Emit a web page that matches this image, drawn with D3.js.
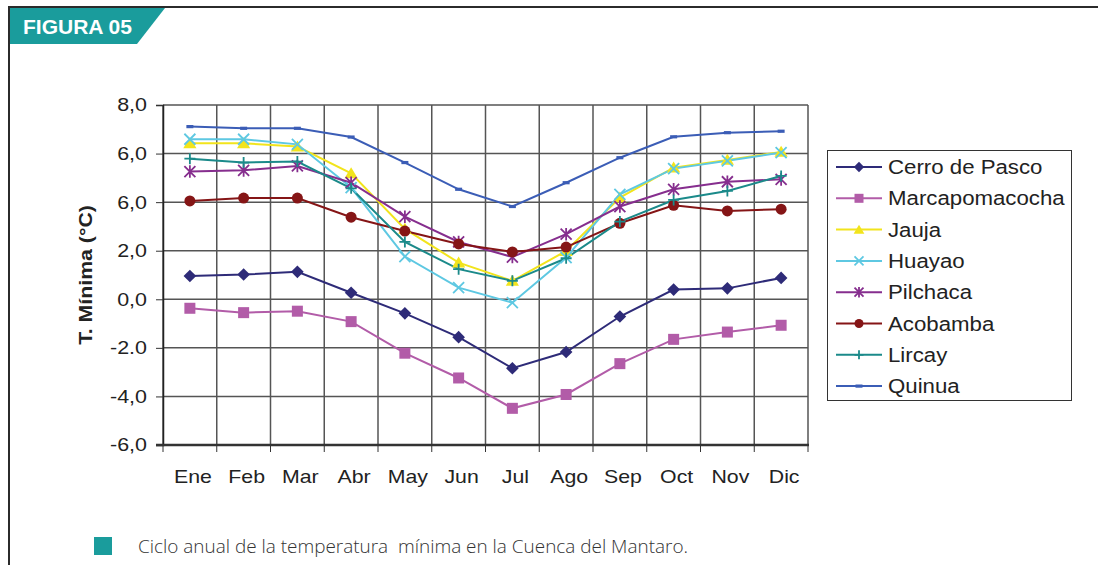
<!DOCTYPE html>
<html>
<head>
<meta charset="utf-8">
<script src="https://cdn.jsdelivr.net/npm/d3@7"></script>
<style>
  body { margin: 0; background: #fff; }
  svg { display: block; }
</style>
</head>
<body>
<svg id="chart" width="1098" height="565"></svg>
<script>
// Months on the x axis
var months = ["Ene", "Feb", "Mar", "Abr", "May", "Jun", "Jul", "Ago", "Sep", "Oct", "Nov", "Dic"];

// y ticks and the labels printed next to them (the original repeats "6,0")
var yTicks = [-6, -4, -2, 0, 2, 4, 6, 8];
var yTickLabels = ["-6,0", "-4,0", "-2.0", "0,0", "2,0", "6,0", "6,0", "8,0"];

var stationNames = ["Cerro de Pasco", "Marcapomacocha", "Jauja", "Huayao", "Pilchaca", "Acobamba", "Lircay", "Quinua"];

// Minimum temperature per month
var cerroDePasco = [0.96, 1.02, 1.13, 0.27, -0.58, -1.56, -2.84, -2.17, -0.71, 0.40, 0.45, 0.88];
var marcapomacocha = [-0.37, -0.55, -0.49, -0.92, -2.22, -3.24, -4.49, -3.92, -2.65, -1.65, -1.35, -1.07];
var jauja = [6.42, 6.42, 6.29, 5.19, 2.90, 1.51, 0.76, 1.99, 4.19, 5.42, 5.74, 6.07];
var huayao = [6.59, 6.59, 6.38, 4.60, 1.76, 0.48, -0.14, 1.72, 4.32, 5.38, 5.70, 6.04];
var pilchaca = [5.26, 5.31, 5.49, 4.80, 3.40, 2.36, 1.74, 2.68, 3.82, 4.53, 4.84, 4.94];
var acobamba = [4.05, 4.17, 4.17, 3.38, 2.81, 2.28, 1.95, 2.15, 3.13, 3.87, 3.64, 3.71];
var lircay = [5.79, 5.63, 5.67, 4.57, 2.36, 1.24, 0.76, 1.69, 3.20, 4.09, 4.46, 5.08];
var quinua = [7.11, 7.04, 7.04, 6.68, 5.63, 4.53, 3.82, 4.80, 5.83, 6.69, 6.86, 6.92];

var seriesValues = [cerroDePasco, marcapomacocha, jauja, huayao, pilchaca, acobamba, lircay, quinua];

// Styling per station, same order as stationNames
var seriesColors = ["#2e2b78", "#b25ca8", "#f2e41c", "#5ec8e2", "#862e8e", "#851516", "#1b8a8a", "#3b5db6"];
var seriesMarkers = ["diamond", "square", "triangle", "x", "star", "circle", "plus", "dash"];

var W = 1098, H = 565;
var plot = { left: 163, right: 808, top: 105, bottom: 445 };
var FONT = "Liberation Sans, Arial, sans-serif";

var svg = d3.select("#chart");

var x = d3.scaleBand().domain(months).range([plot.left, plot.right]).padding(0);
var y = d3.scaleLinear().domain([-6, 8]).range([plot.bottom, plot.top]);

/**
 * The printed figure is a bit wider than tall, so its text is stretched.
 * Widens each text of a selection by the given factor.
 */
function stretch(sel, factor) {
    sel.each(function() {
        var len = this.getComputedTextLength();
        d3.select(this).attr("textLength", len * factor).attr("lengthAdjust", "spacingAndGlyphs");
    });
}

/**
 * Draws one marker shape centred at 0,0 inside group g
 */
function drawMarker(g, type, color, s) {
    var h = s / 2;
    if (type == "diamond") {
        g.append("path").attr("d", "M0," + (-h * 1.15) + "L" + (h * 1.15) + ",0L0," + (h * 1.15) + "L" + (-h * 1.15) + ",0Z")
            .attr("fill", color);
    } else if (type == "square") {
        g.append("rect").attr("x", -h).attr("y", -h).attr("width", s).attr("height", s)
            .attr("fill", color);
    } else if (type == "triangle") {
        g.append("path").attr("d", "M0," + (-h * 1.1) + "L" + (h * 1.2) + "," + (h * 0.9) + "L" + (-h * 1.2) + "," + (h * 0.9) + "Z")
            .attr("fill", color);
    } else if (type == "circle") {
        g.append("circle").attr("r", h).attr("fill", color);
    } else if (type == "x") {
        g.append("path").attr("d", "M" + (-h) + "," + (-h) + "L" + h + "," + h + "M" + (-h) + "," + h + "L" + h + "," + (-h))
            .attr("stroke", color).attr("stroke-width", 1.8).attr("fill", "none");
    } else if (type == "star") {
        g.append("path").attr("d", "M" + (-h) + "," + (-h) + "L" + h + "," + h + "M" + (-h) + "," + h + "L" + h + "," + (-h) +
                "M0," + (-h * 1.15) + "L0," + (h * 1.15))
            .attr("stroke", color).attr("stroke-width", 1.8).attr("fill", "none");
    } else if (type == "plus") {
        g.append("path").attr("d", "M" + (-h) + ",0L" + h + ",0M0," + (-h) + "L0," + h)
            .attr("stroke", color).attr("stroke-width", 1.8).attr("fill", "none");
    } else if (type == "dash") {
        g.append("rect").attr("x", -3.5).attr("y", -1.6).attr("width", 7).attr("height", 3.2)
            .attr("fill", color);
    }
}

// Outer frame of the figure
svg.append("line").attr("x1", 8).attr("x2", W).attr("y1", 7).attr("y2", 7)
    .attr("stroke", "#2b2b2b").attr("stroke-width", 2);
svg.append("line").attr("x1", 9).attr("x2", 9).attr("y1", 6).attr("y2", H)
    .attr("stroke", "#2b2b2b").attr("stroke-width", 2);

// Teal header tab
svg.append("path").attr("d", "M10,8L165,8L137,44L10,44Z").attr("fill", "#1a9c9c");
svg.append("text").attr("x", 23).attr("y", 34)
    .attr("font-family", FONT).attr("font-weight", "bold")
    .attr("font-size", 20).attr("fill", "#fff").text("FIGURA 05")
    .attr("textLength", 109).attr("lengthAdjust", "spacingAndGlyphs");

// Grid lines
var grid = svg.append("g");
grid.selectAll("line.h").data(yTicks).enter().append("line")
    .attr("x1", plot.left).attr("x2", plot.right)
    .attr("y1", function(d) { return y(d); }).attr("y2", function(d) { return y(d); })
    .attr("stroke", "#555").attr("stroke-width", 1.5);

var bounds = months.map(function(m) { return x(m); }).concat([plot.right]);
grid.selectAll("line.v").data(bounds).enter().append("line")
    .attr("x1", function(d) { return d; }).attr("x2", function(d) { return d; })
    .attr("y1", plot.top).attr("y2", plot.bottom)
    .attr("stroke", "#555").attr("stroke-width", 1.5);

// Y axis
var yAxis = svg.append("g").attr("transform", "translate(" + plot.left + ",0)")
    .call(d3.axisLeft(y).tickValues(yTicks).tickSize(7).tickPadding(9)
        .tickFormat(function(d, i) { return yTickLabels[i]; }));
yAxis.select(".domain").attr("stroke", "#222").attr("stroke-width", 1.5);
yAxis.selectAll(".tick line").attr("stroke", "#333");
yAxis.selectAll("text").attr("font-family", FONT)
    .attr("font-size", 18.5).attr("fill", "#222");
stretch(yAxis.selectAll("text"), 1.16);

// X axis: labels at band centres, tick marks at band edges
var xAxis = svg.append("g").attr("transform", "translate(0," + plot.bottom + ")")
    .call(d3.axisBottom(x).tickSize(0).tickPadding(25));
xAxis.select(".domain").remove();
xAxis.selectAll("text").attr("font-family", FONT)
    .attr("font-size", 18.5).attr("fill", "#222").attr("dx", 3);
stretch(xAxis.selectAll("text"), 1.15);
svg.append("g").selectAll("line").data(bounds).enter().append("line")
    .attr("x1", function(d) { return d; }).attr("x2", function(d) { return d; })
    .attr("y1", plot.bottom).attr("y2", plot.bottom + 7)
    .attr("stroke", "#333");
svg.append("line").attr("x1", plot.left - 7).attr("x2", plot.right + 1)
    .attr("y1", plot.bottom).attr("y2", plot.bottom)
    .attr("stroke", "#333").attr("stroke-width", 2.5);

// Y axis title
var yTitle = svg.append("text")
    .attr("transform", "translate(92," + ((plot.top + plot.bottom) / 2) + ") rotate(-90)")
    .attr("text-anchor", "middle")
    .attr("font-family", FONT).attr("font-weight", "bold")
    .attr("font-size", 18.5).attr("fill", "#222").text("T. Mínima (°C)");
stretch(yTitle, 1.15);

// Series lines and markers
var line = d3.line()
    .x(function(d, i) { return x(months[i]) + x.bandwidth() / 2; })
    .y(function(d) { return y(d); });

seriesValues.forEach(function(vals, k) {
    svg.append("path").datum(vals).attr("d", line)
        .attr("fill", "none").attr("stroke", seriesColors[k]).attr("stroke-width", 2);
});
seriesValues.forEach(function(vals, k) {
    vals.forEach(function(v, i) {
        var g = svg.append("g").attr("transform",
            "translate(" + (x(months[i]) + x.bandwidth() / 2) + "," + y(v) + ")");
        drawMarker(g, seriesMarkers[k], seriesColors[k], 11);
    });
});

// Legend
var legend = svg.append("g");
legend.append("rect").attr("x", 827.5).attr("y", 150.5).attr("width", 244).attr("height", 250)
    .attr("fill", "#fff").attr("stroke", "#333").attr("stroke-width", 1);
stationNames.forEach(function(name, k) {
    var cy = 167 + k * 31.3;
    legend.append("line").attr("x1", 836).attr("x2", 882).attr("y1", cy).attr("y2", cy)
        .attr("stroke", seriesColors[k]).attr("stroke-width", 2);
    drawMarker(legend.append("g").attr("transform", "translate(859," + cy + ")"),
        seriesMarkers[k], seriesColors[k], 9);
    var t = legend.append("text").attr("x", 888).attr("y", cy + 7)
        .attr("font-family", FONT)
        .attr("font-size", 19.5).attr("fill", "#222").text(name);
    stretch(t, 1.14);
});

// Caption
svg.append("rect").attr("x", 94).attr("y", 537).attr("width", 18).attr("height", 18).attr("fill", "#1a9c9c");
svg.append("text").attr("x", 138).attr("y", 553)
    .attr("font-family", "Open Sans, sans-serif").attr("font-weight", 300)
    .attr("font-size", 18).attr("fill", "#333")
    .attr("textLength", 550).attr("lengthAdjust", "spacingAndGlyphs")
    .attr("xml:space", "preserve")
    .text("Ciclo anual de la temperatura  mínima en la Cuenca del Mantaro.");
</script>
</body>
</html>
